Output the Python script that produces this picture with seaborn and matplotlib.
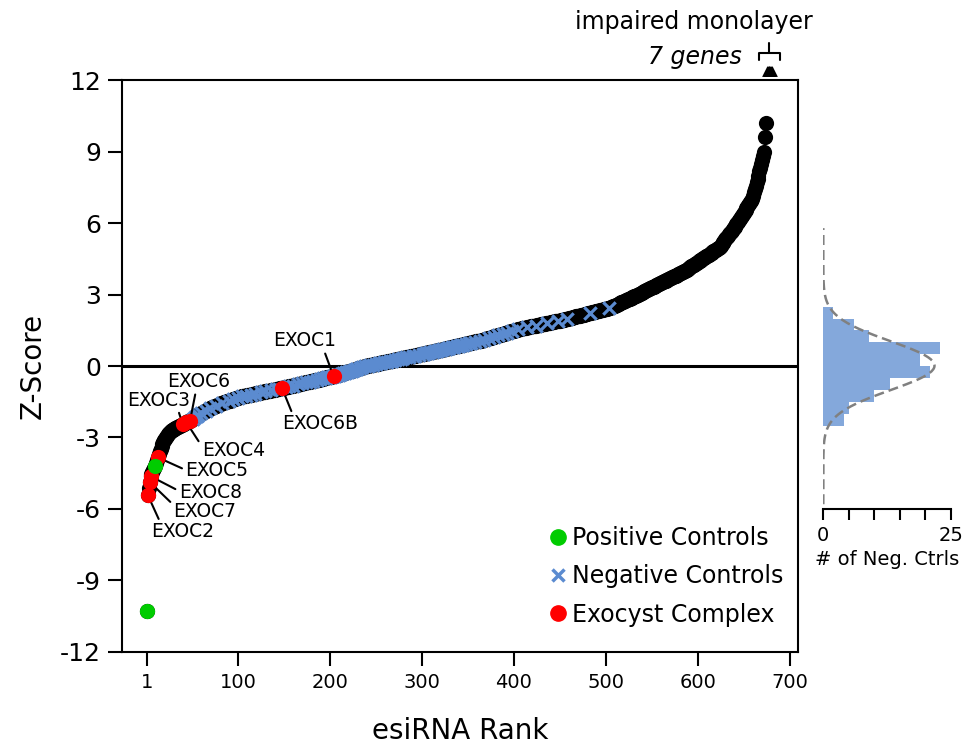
import numpy as np
import pandas as pd
import matplotlib
matplotlib.use("Agg")
import matplotlib.pyplot as plt
from matplotlib.lines import Line2D
import seaborn as sns

# Sorted Z-scores of the screen, one value per esiRNA (index 0 = rank 1)
z_scores = [
    -10.31, -5.42, -5.12, -4.87, -4.63, -4.53, -4.45, -4.37, -4.28, -4.18,
    -4.06, -3.95, -3.84, -3.71, -3.59, -3.48, -3.38, -3.29, -3.20, -3.12,
    -3.05, -2.98, -2.92, -2.86, -2.81, -2.77, -2.73, -2.70, -2.67, -2.65,
    -2.63, -2.61, -2.59, -2.57, -2.55, -2.53, -2.51, -2.49, -2.47, -2.45,
    -2.43, -2.41, -2.39, -2.37, -2.35, -2.33, -2.31, -2.29, -2.26, -2.24,
    -2.21, -2.18, -2.15, -2.12, -2.09, -2.07, -2.04, -2.02, -2.00, -1.98,
    -1.96, -1.94, -1.92, -1.90, -1.88, -1.86, -1.84, -1.82, -1.80, -1.78,
    -1.76, -1.74, -1.72, -1.71, -1.69, -1.67, -1.65, -1.64, -1.62, -1.60,
    -1.59, -1.57, -1.56, -1.55, -1.53, -1.52, -1.51, -1.49, -1.48, -1.47,
    -1.45, -1.44, -1.43, -1.41, -1.40, -1.39, -1.37, -1.36, -1.35, -1.33,
    -1.32, -1.31, -1.29, -1.28, -1.27, -1.26, -1.25, -1.25, -1.24, -1.23,
    -1.22, -1.21, -1.21, -1.20, -1.19, -1.18, -1.17, -1.17, -1.16, -1.15,
    -1.14, -1.13, -1.13, -1.12, -1.11, -1.10, -1.09, -1.09, -1.08, -1.07,
    -1.06, -1.05, -1.05, -1.04, -1.03, -1.02, -1.01, -1.01, -1.00, -0.99,
    -0.98, -0.97, -0.97, -0.96, -0.95, -0.94, -0.93, -0.93, -0.92, -0.91,
    -0.90, -0.89, -0.88, -0.87, -0.87, -0.86, -0.85, -0.84, -0.83, -0.82,
    -0.81, -0.80, -0.79, -0.78, -0.77, -0.77, -0.76, -0.75, -0.74, -0.73,
    -0.72, -0.71, -0.70, -0.69, -0.68, -0.67, -0.67, -0.66, -0.65, -0.64,
    -0.63, -0.62, -0.61, -0.60, -0.59, -0.58, -0.57, -0.57, -0.56, -0.55,
    -0.54, -0.53, -0.52, -0.51, -0.50, -0.49, -0.48, -0.47, -0.47, -0.46,
    -0.45, -0.44, -0.44, -0.43, -0.42, -0.40, -0.39, -0.38, -0.37, -0.36,
    -0.34, -0.33, -0.32, -0.31, -0.30, -0.28, -0.27, -0.26, -0.25, -0.24,
    -0.22, -0.21, -0.20, -0.19, -0.18, -0.16, -0.15, -0.14, -0.13, -0.12,
    -0.10, -0.09, -0.08, -0.07, -0.06, -0.05, -0.04, -0.02, -0.01, 0.00,
    0.01, 0.02, 0.03, 0.03, 0.04, 0.05, 0.06, 0.07, 0.08, 0.08,
    0.09, 0.10, 0.11, 0.12, 0.13, 0.13, 0.14, 0.15, 0.16, 0.17,
    0.18, 0.18, 0.19, 0.20, 0.21, 0.22, 0.23, 0.23, 0.24, 0.25,
    0.26, 0.27, 0.28, 0.28, 0.29, 0.30, 0.31, 0.32, 0.33, 0.34,
    0.34, 0.35, 0.36, 0.37, 0.38, 0.39, 0.39, 0.40, 0.41, 0.42,
    0.43, 0.44, 0.44, 0.45, 0.46, 0.47, 0.48, 0.49, 0.49, 0.50,
    0.51, 0.52, 0.53, 0.54, 0.54, 0.55, 0.56, 0.57, 0.58, 0.59,
    0.59, 0.60, 0.61, 0.62, 0.63, 0.64, 0.65, 0.66, 0.67, 0.68,
    0.68, 0.69, 0.70, 0.71, 0.72, 0.73, 0.74, 0.75, 0.76, 0.77,
    0.77, 0.78, 0.79, 0.80, 0.81, 0.82, 0.83, 0.84, 0.85, 0.86,
    0.87, 0.87, 0.88, 0.89, 0.90, 0.91, 0.92, 0.93, 0.94, 0.95,
    0.96, 0.96, 0.97, 0.98, 0.99, 1.00, 1.01, 1.02, 1.03, 1.04,
    1.05, 1.06, 1.06, 1.07, 1.08, 1.09, 1.10, 1.11, 1.12, 1.13,
    1.15, 1.16, 1.17, 1.18, 1.19, 1.20, 1.22, 1.23, 1.24, 1.25,
    1.26, 1.27, 1.29, 1.30, 1.31, 1.32, 1.33, 1.35, 1.36, 1.37,
    1.38, 1.39, 1.40, 1.42, 1.43, 1.44, 1.45, 1.46, 1.47, 1.49,
    1.50, 1.51, 1.52, 1.53, 1.55, 1.56, 1.56, 1.57, 1.58, 1.59,
    1.60, 1.60, 1.61, 1.62, 1.63, 1.64, 1.65, 1.65, 1.66, 1.67,
    1.68, 1.69, 1.69, 1.70, 1.71, 1.72, 1.73, 1.73, 1.74, 1.75,
    1.76, 1.77, 1.77, 1.78, 1.79, 1.80, 1.81, 1.81, 1.82, 1.83,
    1.84, 1.85, 1.86, 1.86, 1.87, 1.88, 1.89, 1.90, 1.90, 1.91,
    1.92, 1.93, 1.94, 1.94, 1.95, 1.96, 1.97, 1.98, 1.99, 2.00,
    2.01, 2.02, 2.03, 2.04, 2.05, 2.06, 2.07, 2.08, 2.09, 2.10,
    2.11, 2.12, 2.13, 2.14, 2.15, 2.16, 2.17, 2.18, 2.19, 2.20,
    2.21, 2.22, 2.23, 2.24, 2.25, 2.26, 2.27, 2.28, 2.29, 2.30,
    2.31, 2.32, 2.33, 2.34, 2.35, 2.36, 2.37, 2.38, 2.39, 2.40,
    2.41, 2.42, 2.43, 2.44, 2.45, 2.47, 2.49, 2.50, 2.52, 2.54,
    2.56, 2.58, 2.60, 2.61, 2.63, 2.65, 2.67, 2.69, 2.70, 2.72,
    2.74, 2.76, 2.78, 2.80, 2.81, 2.83, 2.85, 2.87, 2.89, 2.90,
    2.92, 2.94, 2.96, 2.98, 3.00, 3.02, 3.04, 3.06, 3.08, 3.10,
    3.12, 3.14, 3.16, 3.18, 3.20, 3.22, 3.24, 3.26, 3.28, 3.30,
    3.31, 3.33, 3.35, 3.37, 3.39, 3.41, 3.43, 3.45, 3.47, 3.49,
    3.51, 3.53, 3.55, 3.57, 3.59, 3.61, 3.63, 3.65, 3.67, 3.69,
    3.71, 3.72, 3.74, 3.76, 3.78, 3.80, 3.82, 3.84, 3.86, 3.88,
    3.90, 3.92, 3.94, 3.96, 3.98, 4.00, 4.03, 4.05, 4.08, 4.11,
    4.13, 4.16, 4.18, 4.21, 4.24, 4.26, 4.29, 4.32, 4.34, 4.37,
    4.39, 4.42, 4.45, 4.47, 4.50, 4.53, 4.55, 4.58, 4.61, 4.63,
    4.66, 4.68, 4.71, 4.74, 4.76, 4.79, 4.82, 4.84, 4.87, 4.89,
    4.92, 4.95, 4.97, 5.00, 5.05, 5.11, 5.16, 5.21, 5.26, 5.32,
    5.37, 5.42, 5.47, 5.53, 5.58, 5.63, 5.68, 5.74, 5.79, 5.84,
    5.89, 5.95, 6.00, 6.06, 6.13, 6.19, 6.25, 6.31, 6.38, 6.44,
    6.50, 6.56, 6.63, 6.69, 6.75, 6.81, 6.88, 6.94, 7.00, 7.14,
    7.29, 7.43, 7.57, 7.71, 7.86, 8.00, 8.17, 8.33, 8.50, 8.67,
    8.83, 8.99, 9.63, 10.20,
]

positive_ctrl_ranks = [1, 10]

negative_ctrl_ranks = [
    51, 53, 55, 57,
    60, 65, 70, 76, 83,
    90, 95, 100, 104, 109, 114, 119, 125, 130, 136,
    141, 145, 152, 156, 160, 165, 170, 174, 178, 182, 186, 189, 193,
    196, 197, 199, 201, 203, 206, 208, 210, 212, 214, 216, 218, 220, 222,
    224, 226, 228, 230, 233, 235, 238,
    241, 244, 247, 250, 253, 256, 259, 262, 265, 268, 271, 274, 277, 280,
    283, 286, 290, 293, 297,
    301, 302, 305, 307, 309, 312, 314, 316, 319, 321, 323, 326, 328, 330,
    333, 335, 338, 340, 343, 345, 348, 351, 354,
    358, 363, 368, 373, 378, 383, 388, 393, 398,
    405, 414, 424, 436, 448, 458,
    483, 504,
]

exocyst_genes = ["EXOC2", "EXOC7", "EXOC8", "EXOC5", "EXOC3",
                 "EXOC4", "EXOC6", "EXOC6B", "EXOC1"]
exocyst_ranks = [2, 4, 5, 13, 40, 44, 48, 148, 204]

monolayer_ranks = [668, 669, 670, 671, 672, 673, 674]

hist_edges = [-2.5, -2.0, -1.5, -1.0, -0.5, 0.0, 0.5, 1.0, 1.5, 2.0, 2.5]
x_ticks = [1, 100, 200, 300, 400, 500, 600, 700]
y_ticks = [-12, -9, -6, -3, 0, 3, 6, 9, 12]
count_ticks = [0, 5, 10, 15, 20, 25]

# label text placement (rank, z) and where the leader line leaves the text box
label_layout = {
    "EXOC1": ((173.0, 1.06), (0.80, 0.0)),
    "EXOC6B": ((189.3, -2.43), (0.14, 1.0)),
    "EXOC6": ((57.0, -0.66), (0.46, 0.0)),
    "EXOC3": ((13.6, -1.43), (0.80, 0.1)),
    "EXOC4": ((95.1, -3.53), (0.0, 0.7)),
    "EXOC5": ((77.0, -4.40), (0.0, 0.55)),
    "EXOC8": ((69.8, -5.32), (0.0, 0.6)),
    "EXOC7": ((64.3, -6.12), (0.0, 0.85)),
    "EXOC2": ((40.1, -6.96), (0.14, 1.0)),
}

BLUE = "#5b8bd0"
GREEN = "#00cc00"
RED = "#ff0000"

df = pd.DataFrame({"rank": np.arange(1, len(z_scores) + 1), "z": z_scores})
z_of = dict(zip(df["rank"], df["z"]))
neg_df = pd.DataFrame({"rank": negative_ctrl_ranks,
                       "z": [z_of[r] for r in negative_ctrl_ranks]})
pos_df = pd.DataFrame({"rank": positive_ctrl_ranks,
                       "z": [z_of[r] for r in positive_ctrl_ranks]})
exo_df = pd.DataFrame({"gene": exocyst_genes, "rank": exocyst_ranks,
                       "z": [z_of[r] for r in exocyst_ranks]})

sns.set_style("ticks")
plt.rcParams.update({
    "font.family": ["DejaVu Sans"],
    "axes.unicode_minus": False,
    "axes.linewidth": 1.5,
    "text.color": "black",
    "axes.labelcolor": "black",
    "axes.edgecolor": "black",
    "xtick.color": "black",
    "ytick.color": "black",
})

fig = plt.figure(figsize=(9.67, 7.45), dpi=100)
ax = fig.add_axes([0.1262, 0.1252, 0.6990, 0.7670])
hax = fig.add_axes([0.8514, 0.3168, 0.1317, 0.3834])

# --- rank plot ---
ax.axhline(0, color="black", lw=2.2, zorder=1)
sns.scatterplot(data=df, x="rank", y="z", color="black", s=120,
                linewidth=0, ax=ax, zorder=2)
sns.scatterplot(data=neg_df, x="rank", y="z", color=BLUE, marker="x",
                s=80, linewidth=2.3, ax=ax, zorder=3)
sns.scatterplot(data=pos_df, x="rank", y="z", color=GREEN, s=120,
                linewidth=0, ax=ax, zorder=6)
sns.scatterplot(data=exo_df, x="rank", y="z", color=RED, s=120,
                linewidth=0, ax=ax, zorder=5)

for gene, rank, z in zip(exo_df["gene"], exo_df["rank"], exo_df["z"]):
    (tx, ty), rp = label_layout[gene]
    ax.annotate(gene, xy=(rank, z), xytext=(tx, ty), textcoords="data",
                ha="center", va="center", fontsize=13.5, zorder=4,
                arrowprops=dict(arrowstyle="-", color="black", lw=1.5,
                                shrinkA=0, shrinkB=0, relpos=rp))

# genes with an impaired monolayer, marked above the frame under a bracket
# just right of the curve's end
marker_shift = 7
ax.scatter([r + marker_shift for r in monolayer_ranks],
           [12.38] * len(monolayer_ranks), marker="^",
           s=60, color="black", linewidths=0, clip_on=False, zorder=7)
ax.plot([666.4, 666.4, 689, 689], [12.86, 13.14, 13.14, 12.86],
        color="black", lw=1.5, clip_on=False)
ax.plot([677.5, 677.5], [13.14, 13.57], color="black", lw=1.5, clip_on=False)
ax.text(648, 12.98, f"{len(monolayer_ranks)} genes", ha="right", va="center",
        fontsize=17, style="italic")
ax.text(595.7, 14.46, "impaired monolayer", ha="center", va="center",
        fontsize=17)

ax.set_xlim(-26, 709)
ax.set_ylim(-12, 12)
ax.set_xticks(x_ticks)
ax.set_yticks(y_ticks)
ax.tick_params(axis="x", labelsize=14, length=10, width=1.5, pad=5)
ax.tick_params(axis="y", labelsize=18, length=10, width=1.5, pad=5)
ax.set_xlabel("esiRNA Rank", fontsize=20, labelpad=18)
ax.set_ylabel("Z-Score", fontsize=20, labelpad=10)
for side in ["top", "right", "left", "bottom"]:
    ax.spines[side].set_visible(True)
    ax.spines[side].set_linewidth(1.5)

legend_handles = [
    Line2D([], [], ls="none", marker="o", ms=11, color=GREEN,
           label="Positive Controls"),
    Line2D([], [], ls="none", marker="x", ms=9, mew=2.5, color=BLUE,
           label="Negative Controls"),
    Line2D([], [], ls="none", marker="o", ms=11, color=RED,
           label="Exocyst Complex"),
]
ax.legend(handles=legend_handles, loc="lower right", frameon=False,
          fontsize=17, handletextpad=0.0, labelspacing=0.6,
          borderaxespad=0.3, handlelength=1.2, bbox_to_anchor=(1.003, 0.015))

# --- distribution of negative controls ---
sns.histplot(data=neg_df, y="z", bins=hist_edges, color=BLUE, alpha=0.75,
             edgecolor=BLUE, linewidth=0, ax=hax)
n_neg = len(neg_df)
bin_w = hist_edges[1] - hist_edges[0]
mu, sd = neg_df["z"].mean(), neg_df["z"].std()
yy = np.linspace(-5.8, 5.8, 300)
xx = n_neg * bin_w * np.exp(-0.5 * ((yy - mu) / sd) ** 2) / (sd * np.sqrt(2 * np.pi))
sns.lineplot(x=xx, y=yy, sort=False, estimator=None, color="#808080",
             lw=1.8, ax=hax)
hax.lines[-1].set_dashes([4, 2])

hax.set_ylim(-6, 6)
hax.set_xlim(0, 25)
hax.set_xticks(count_ticks)
hax.set_xticklabels(["0", "", "", "", "", "25"])
hax.set_yticks([])
hax.tick_params(axis="x", labelsize=14, length=8, width=1.5, pad=4)
hax.set_xlabel("# of Neg. Ctrls", fontsize=14, labelpad=4)
hax.set_ylabel("")
for side in ["top", "right", "left"]:
    hax.spines[side].set_visible(False)
hax.spines["bottom"].set_linewidth(1.5)
hax.patch.set_alpha(0)

fig.savefig("out.png", dpi=100)
